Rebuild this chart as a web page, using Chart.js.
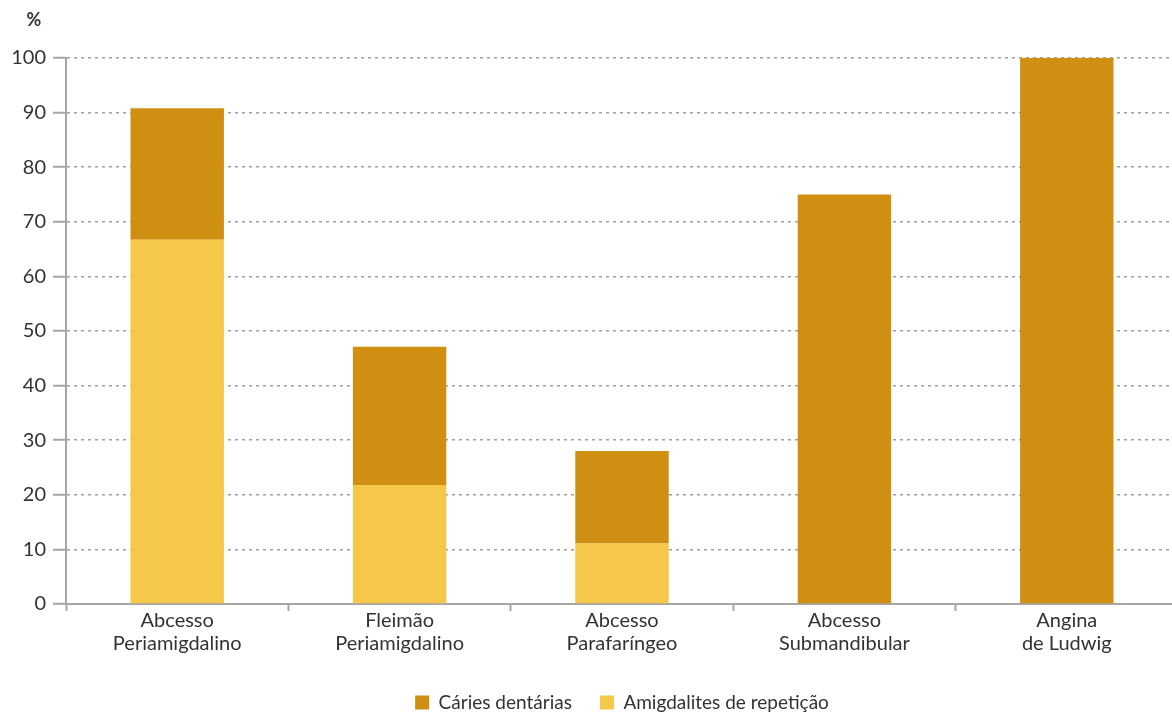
<!DOCTYPE html>
<html lang="pt">
  <head>
    <meta charset="UTF-8" />
    <title>Abcessos cervicais</title>
    <script src="https://cdn.jsdelivr.net/npm/chart.js"></script>
    <style>
      html, body {
        margin: 0;
        padding: 0;
        background: #fff;
        overflow: hidden;
      }
      #chart-container {
        width: 1180px;
        height: 722px;
      }
    </style>
  </head>
  <body>
    <div id="chart-container">
      <canvas id="my-chart"></canvas>
    </div>

    <script>
      const categories = [
        ["Abcesso", "Periamigdalino"],
        ["Fleimão", "Periamigdalino"],
        ["Abcesso", "Parafaríngeo"],
        ["Abcesso", "Submandibular"],
        ["Angina", "de Ludwig"],
      ];
      const amigdalites = [66.7, 21.8, 11.1, 0, 0]; // Amigdalites de repetição
      const caries = [24.1, 25.3, 16.9, 75, 100]; // Cáries dentárias
      const yTicks = [0, 10, 20, 30, 40, 50, 60, 70, 80, 90, 100];

      const gold = "#cf8f12";
      const yellow = "#f5c84a";
      const axisGrey = "#a6a6a6";
      const textColor = "#333333";

      // "%" unit drawn above the y axis labels
      const unitLabel = {
        id: "unitLabel",
        afterDraw(chart) {
          const ctx = chart.ctx;
          ctx.save();
          ctx.font = "bold 18px Lato";
          ctx.fillStyle = textColor;
          ctx.textAlign = "center";
          ctx.textBaseline = "middle";
          ctx.fillText("%", 34, 20);
          ctx.restore();
        },
      };

      const ctx = document.getElementById("my-chart").getContext("2d");
      const myChart = new Chart(ctx, {
        type: "bar",
        data: {
          labels: categories,
          datasets: [
            {
              label: "Amigdalites de repetição",
              data: amigdalites,
              backgroundColor: yellow,
              barPercentage: 0.42,
              categoryPercentage: 1,
            },
            {
              label: "Cáries dentárias",
              data: caries,
              backgroundColor: gold,
              barPercentage: 0.42,
              categoryPercentage: 1,
            },
          ],
        },
        options: {
          responsive: true,
          maintainAspectRatio: false,
          animation: false,
          layout: {
            padding: { top: 58, right: 2, bottom: 0, left: 0 },
          },
          plugins: {
            legend: {
              position: "bottom",
              fullSize: false,
              reverse: true,
              labels: {
                color: textColor,
                font: { family: "Lato", size: 19 },
                boxWidth: 14,
                boxHeight: 14,
                padding: 28,
              },
            },
            tooltip: { enabled: false },
          },
          scales: {
            x: {
              stacked: true,
              grid: {
                drawOnChartArea: false,
                tickLength: 7,
                tickColor: axisGrey,
                tickWidth: 2,
              },
              border: { color: axisGrey, width: 2 },
              ticks: {
                color: textColor,
                font: { family: "Lato", size: 20, lineHeight: 1.15 },
                padding: -2,
                maxRotation: 0,
              },
              afterFit(scale) {
                scale.height = 61;
              },
            },
            y: {
              stacked: true,
              min: 0,
              max: 100,
              z: 1,
              afterBuildTicks(scale) {
                scale.ticks = yTicks.map((v) => ({ value: v }));
              },
              afterFit(scale) {
                scale.width = 66;
              },
              grid: {
                color: (c) => (c.tick && c.tick.value === 0 ? "rgba(0,0,0,0)" : "#a0a0a0"),
                lineWidth: 1.5,
                tickLength: 13,
                tickColor: axisGrey,
                tickWidth: 2,
                tickBorderDash: [],
              },
              border: { color: axisGrey, width: 2, dash: [3, 4] },
              ticks: {
                color: textColor,
                font: { family: "Lato", size: 20 },
                padding: 7,
              },
            },
          },
        },
        plugins: [unitLabel],
      });
    </script>
  </body>
</html>
